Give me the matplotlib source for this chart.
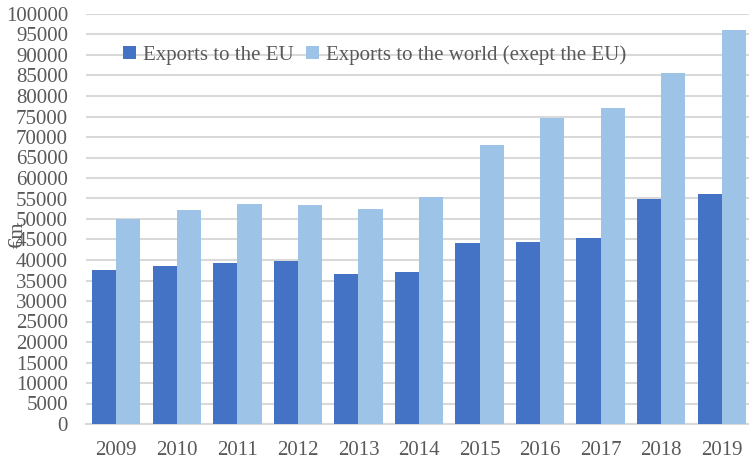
import numpy as np
import matplotlib
matplotlib.use("Agg")
import matplotlib.pyplot as plt

years = ["2009", "2010", "2011", "2012", "2013", "2014", "2015", "2016", "2017", "2018", "2019"]
exports_eu = [37500, 38500, 39300, 39800, 36700, 37000, 44100, 44400, 45400, 54900, 56000]
exports_world = [50000, 52200, 53700, 53400, 52400, 55300, 68000, 74600, 77100, 85600, 96200]

plt.rcParams['font.family'] = ['Liberation Serif', 'DejaVu Serif']
text_color = '#595959'

fig = plt.figure(figsize=(7.49, 4.62), dpi=100)
ax = fig.add_axes([86 / 749, (462 - 424) / 462, 666 / 749, 410 / 462])

x = np.arange(len(years))
w = 0.4
ax.bar(x - w / 2, exports_eu, width=w, color='#4472C4', label='Exports to the EU', zorder=3)
ax.bar(x + w / 2, exports_world, width=w, color='#9DC3E6', label='Exports to the world (exept the EU)', zorder=3)

ax.set_xlim(-0.5, len(years) - 0.5)
ax.set_ylim(0, 100000)
ax.set_yticks(range(0, 100001, 5000))
ax.set_xticks(x)
ax.set_xticklabels(years)
ax.yaxis.grid(True, color='#D9D9D9', linewidth=1.5, zorder=0)
ax.set_axisbelow(True)
for s in ['top', 'right', 'left']:
    ax.spines[s].set_visible(False)
ax.spines['bottom'].set_color('#D9D9D9')
ax.spines['bottom'].set_linewidth(1.5)
ax.tick_params(axis='both', length=0, labelsize=15, colors=text_color)
ax.tick_params(axis='y', pad=13)
ax.tick_params(axis='x', pad=12)

# y label sits over the tick labels, as in the original
fig.text(18 / 749, 1 - 235 / 462, '€m', rotation=90, fontsize=15, color=text_color,
         ha='center', va='center')

ax.legend(loc='upper left', bbox_to_anchor=(0.028, 0.97), ncol=2, frameon=False,
          fontsize=15, handlelength=0.6, handleheight=0.6, handletextpad=0.35,
          columnspacing=0.6, labelcolor=text_color)

fig.savefig('out.png', dpi=100)
